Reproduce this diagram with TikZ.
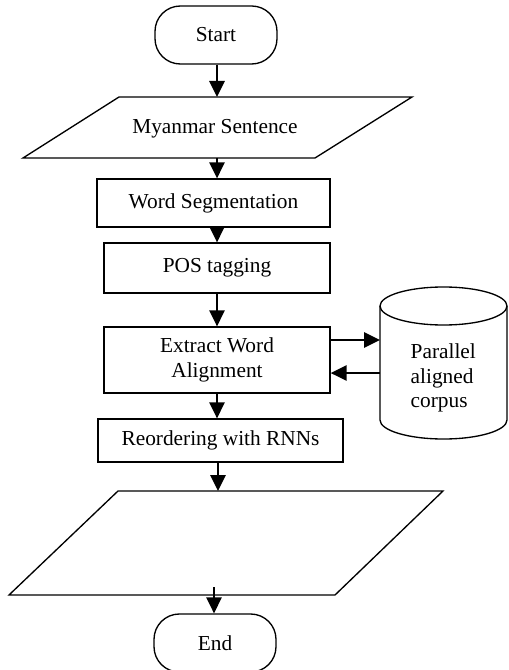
\documentclass[tikz,border=0pt]{standalone}
\usepackage{fontspec}
\setmainfont{Liberation Serif}
\usetikzlibrary{arrows.meta}
\begin{document}
\begin{tikzpicture}[x=0.75pt,y=-0.75pt,
  every node/.style={font=\fontsize{16pt}{18.6pt}\selectfont},
  term/.style={draw,line width=1pt,rounded corners=19pt,minimum width=91.5pt,minimum height=43.5pt,inner sep=0pt},
  procbox/.style={draw,line width=1pt,inner sep=0pt,align=center},
  shp/.style={draw,line width=1pt},
  arr/.style={line width=1.5pt,-{Triangle[length=12pt,width=11.5pt]}}]
\useasboundingbox (0,0) rectangle (508,670);
\coordinate (colx) at (217,0);
% Start
\node[term] (start) at (216,35) {Start};
% input parallelogram
\coordinate (p1a) at (119,97);
\coordinate (p1b) at (412,97);
\coordinate (p1c) at (315,158);
\coordinate (p1d) at (23,158);
\draw[shp] (p1a) -- (p1b) -- (p1c) -- (p1d) -- cycle;
\node (inp) at (215,129) {Myanmar Sentence};
\coordinate (p1top) at (217,97);
\coordinate (p1bot) at (217,158);
% boxes
\node[procbox,minimum width=174.75pt,minimum height=36pt] (ws) at (213.5,203) {Word Segmentation};
\node[procbox,minimum width=169.5pt,minimum height=37.5pt] (pos) at (217,268) {POS tagging};
\node[procbox,minimum width=169.5pt,minimum height=49.5pt] (ext) at (217,360) {Extract Word\\Alignment};
\node[procbox,minimum width=183.75pt,minimum height=32.25pt] (reo) at (220.5,440.5) {Reordering with RNNs};
% output parallelogram
\coordinate (p2a) at (118,491);
\coordinate (p2b) at (443,491);
\coordinate (p2c) at (335,595);
\coordinate (p2d) at (9,595);
\draw[shp] (p2a) -- (p2b) -- (p2c) -- (p2d) -- cycle;
\coordinate (p2top) at (218,491);
\coordinate (p2out) at (214,587);
% End
\node[term] (end) at (215,643) {End};
% cylinder
\draw[shp] (380,306) -- (380,420) arc[start angle=180,end angle=0,x radius=63.5,y radius=19] -- (507,306);
\draw[shp] (443.5,306) ellipse[x radius=63.5,y radius=19];
\node[align=left,anchor=west] (corpus) at (406,378) {Parallel\\aligned\\corpus};
\coordinate (cyl1) at (380,340);
\coordinate (cyl2) at (380,373);
% arrows
\draw[arr] (start.south -| colx) -- (p1top);
\draw[arr] (p1bot) -- (ws.north -| colx);
\draw[arr] (ws.south -| colx) -- (pos.north -| colx);
\draw[arr] (pos.south -| colx) -- (ext.north -| colx);
\draw[arr] (ext.east |- cyl1) -- (cyl1);
\draw[arr] (cyl2) -- (ext.east |- cyl2);
\draw[arr] (ext.south -| colx) -- (reo.north -| colx);
\draw[arr] (reo.south -| p2top) -- (p2top);
\draw[arr] (p2out) -- (end.north -| p2out);
\end{tikzpicture}
\end{document}
